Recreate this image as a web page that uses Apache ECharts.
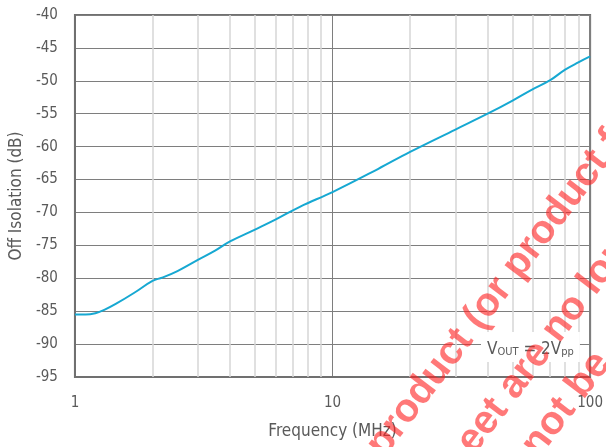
<!DOCTYPE html>
<html>
<head>
<meta charset="utf-8">
<script src="https://cdn.jsdelivr.net/npm/echarts@6/dist/echarts.min.js"></script>
<style>html,body{margin:0;padding:0;background:#fff;overflow:hidden}#c{width:606px;height:447px}</style>
</head>
<body>
<div id="c"></div>
<script>
// Data
var freqMHz = [1, 1.1, 1.2, 1.3, 1.44, 1.7, 2.0, 2.18, 2.5, 3.0, 3.5, 4.0, 5.0, 6.0, 7.5, 10, 15, 20, 30, 40, 50, 59, 70, 80, 90, 100];
var offIsolationDb = [-85.5, -85.5, -85.3, -84.8, -83.9, -82.2, -80.4, -79.9, -78.9, -77.2, -75.8, -74.4, -72.6, -71.1, -69.1, -66.9, -63.4, -60.8, -57.4, -55.0, -53.0, -51.4, -49.9, -48.3, -47.2, -46.3];
var minorFreqs = [2, 3, 4, 5, 6, 7, 8, 9, 20, 30, 40, 50, 60, 70, 80, 90];
var yTicks = { min: -95, max: -40, step: 5 };

var font = "'DejaVu Sans Condensed', 'DejaVu Sans', sans-serif";
var txt = '#5a5a5a';

var chart = echarts.init(document.getElementById('c'), null, { renderer: 'canvas', width: 606, height: 447 });
var lineData = freqMHz.map(function (f, i) { return [f, offIsolationDb[i]]; });

chart.setOption({
  animation: false,
  backgroundColor: '#fff',
  grid: { left: 72, right: 13, top: 15, bottom: 70, show: true, borderColor: '#707070', borderWidth: 2, containLabel: false },
  xAxis: {
    type: 'log', logBase: 10, min: 1, max: 100,
    name: 'Frequency (MHz)', nameLocation: 'middle', nameGap: 46,
    nameTextStyle: { color: txt, fontFamily: font, fontSize: 17 },
    axisLine: { show: true, lineStyle: { color: '#707070', width: 2 } },
    axisTick: { show: false },
    axisLabel: { color: txt, fontFamily: font, fontSize: 15, margin: 19 },
    splitLine: { show: true, lineStyle: { color: '#7e7e7e', width: 1 } }
  },
  yAxis: {
    type: 'value', min: yTicks.min, max: yTicks.max, interval: yTicks.step,
    name: 'Off Isolation (dB)', nameLocation: 'middle', nameGap: 49,
    nameTextStyle: { color: txt, fontFamily: font, fontSize: 17 },
    axisLine: { show: true, lineStyle: { color: '#707070', width: 2 } },
    axisTick: { show: false },
    axisLabel: { color: txt, fontFamily: font, fontSize: 15, margin: 17 },
    splitLine: { show: true, lineStyle: { color: '#7e7e7e', width: 1 } }
  },
  series: [
    {
      type: 'line', data: [], z: 1, silent: true,
      markLine: {
        silent: true, symbol: 'none', animation: false,
        label: { show: false },
        lineStyle: { color: '#d6d6d6', type: 'solid', width: 1.5 },
        data: minorFreqs.map(function (f) { return { xAxis: f }; })
      }
    },
    {
      type: 'line', data: lineData, z: 5, showSymbol: false, smooth: 0.4,
      lineStyle: { color: '#16a8d2', width: 2 }
    }
  ],
  graphic: [
    {
      type: 'text', left: 481, top: 332, z: 10,
      style: {
        text: '{a|V}{b|OUT}{a| = 2V}{b|pp}',
        backgroundColor: '#fff',
        padding: [4, 6, 4, 6],
        rich: {
          a: { fontFamily: font, fontSize: 17, fill: txt, color: txt, lineHeight: 22, verticalAlign: 'bottom' },
          b: { fontFamily: font, fontSize: 11, fill: txt, color: txt, lineHeight: 14, verticalAlign: 'bottom' }
        }
      }
    },
    {
      type: 'text', x: 375, y: 452, rotation: 0.92, z: 20, silent: true,
      style: { text: 'product (or product folder)', fill: 'rgba(255,30,30,0.6)', font: 'bold 40px "Liberation Sans", Arial, sans-serif', textAlign: 'left', textVerticalAlign: 'middle' }
    },
    {
      type: 'text', x: 437, y: 486, rotation: 0.92, z: 20, silent: true,
      style: { text: 'sheet are no longer', fill: 'rgba(255,30,30,0.6)', font: 'bold 40px "Liberation Sans", Arial, sans-serif', textAlign: 'left', textVerticalAlign: 'middle' }
    },
    {
      type: 'text', x: 530, y: 452, rotation: 0.92, z: 20, silent: true,
      style: { text: 'not be', fill: 'rgba(255,30,30,0.6)', font: 'bold 40px "Liberation Sans", Arial, sans-serif', textAlign: 'left', textVerticalAlign: 'middle' }
    }
  ]
});
</script>
</body>
</html>
